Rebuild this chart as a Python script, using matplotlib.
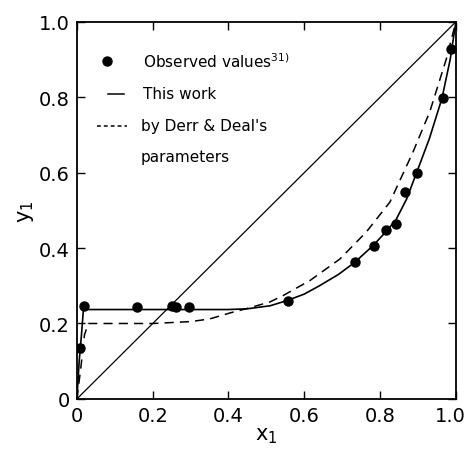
import numpy as np
import matplotlib
matplotlib.use("Agg")
import matplotlib.pyplot as plt
import matplotlib.transforms as mtransforms

# observed values (ref. 31)
obs_x = [0.008, 0.019, 0.158, 0.251, 0.261, 0.296, 0.556, 0.733, 0.783,
         0.815, 0.843, 0.866, 0.897, 0.965, 0.987]
obs_y = [0.135, 0.247, 0.244, 0.247, 0.245, 0.244, 0.260, 0.362, 0.406,
         0.448, 0.465, 0.550, 0.600, 0.797, 0.928]

# this work (solid)
fit_x = [0, 0.006, 0.012, 0.018, 0.022, 0.1, 0.2, 0.3, 0.4, 0.45, 0.51,
         0.555, 0.60, 0.64, 0.69, 0.733, 0.782, 0.815, 0.842, 0.87, 0.896,
         0.93, 0.963, 0.985, 1.0]
fit_y = [0, 0.10, 0.17, 0.248, 0.237, 0.237, 0.237, 0.237, 0.237, 0.239,
         0.247, 0.261, 0.278, 0.300, 0.330, 0.362, 0.407, 0.443, 0.475,
         0.530, 0.599, 0.690, 0.796, 0.900, 1.0]

# Derr & Deal's parameters (dashed)
dd_x = [0, 0.01, 0.02, 0.03, 0.1, 0.2, 0.3, 0.35, 0.404, 0.45, 0.509,
        0.544, 0.615, 0.694, 0.764, 0.826, 0.887, 0.931, 0.975, 1.0]
dd_y = [0, 0.08, 0.17, 0.20, 0.20, 0.20, 0.205, 0.212, 0.228, 0.240,
        0.257, 0.274, 0.314, 0.371, 0.443, 0.522, 0.655, 0.761, 0.902, 1.0]

ticks = [0, 0.2, 0.4, 0.6, 0.8, 1.0]
tick_labels = ["0", "0.2", "0.4", "0.6", "0.8", "1.0"]

fig = plt.figure(figsize=(4.69, 4.56), dpi=100)
ax = fig.add_axes([0.164, 0.123, 0.808, 0.827])

ax.plot([0, 1], [0, 1], color="black", lw=0.9)
ax.plot(fit_x, fit_y, color="black", lw=1.2)
ax.plot(dd_x, dd_y, color="black", lw=1.1, dashes=(6, 4))
ax.plot(obs_x, obs_y, "o", color="black", ms=6.5, ls="none")

ax.set_xlim(0, 1)
ax.set_ylim(0, 1)
ax.set_xticks(ticks)
ax.set_yticks(ticks)
ax.set_xticklabels(tick_labels)
ax.set_yticklabels(tick_labels)
ax.tick_params(direction="in", length=6, width=1, top=True, right=True,
               labelsize=14, pad=5)
for s in ax.spines.values():
    s.set_linewidth(1.3)

# nudge last x tick label so it stays inside the figure
last = ax.get_xticklabels()[-1]
last.set_transform(last.get_transform() +
                   mtransforms.ScaledTranslation(-6 / 100, 0, fig.dpi_scale_trans))

ax.set_xlabel("x$_1$", fontsize=15, labelpad=0)
ax.set_ylabel("y$_1$", fontsize=15, labelpad=2)

# legend drawn by hand
ax.plot([0.079], [0.897], "o", color="black", ms=6.5)
ax.plot([0.082, 0.125], [0.809, 0.809], color="black", lw=1.1)
ax.plot([0.053, 0.132], [0.724, 0.724], color="black", lw=1.1, dashes=(2.5, 2))
tx = 0.174
ax.text(tx, 0.897, "Observed values$^{31)}$", fontsize=11, va="center")
ax.text(tx, 0.809, "This work", fontsize=11, va="center")
ax.text(tx - 0.005, 0.724, "by Derr & Deal's", fontsize=11, va="center")
ax.text(tx - 0.005, 0.642, "parameters", fontsize=11, va="center")

fig.savefig("out.png", dpi=100)
